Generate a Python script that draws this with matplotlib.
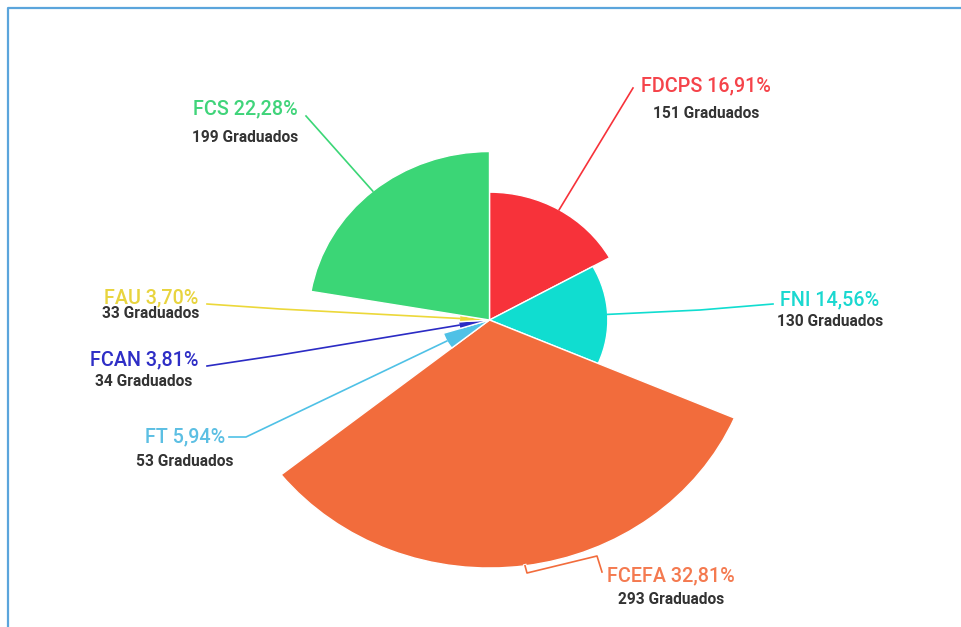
import matplotlib
matplotlib.use("Agg")
import matplotlib.pyplot as plt
from matplotlib.patches import Wedge
from matplotlib.transforms import Affine2D
import matplotlib.patheffects as pe
import numpy as np

# ---- data ----
faculties = ["FDCPS", "FNI", "FCEFA", "FT", "FCAN", "FAU", "FCS"]
graduados = [151, 130, 293, 53, 34, 33, 199]
percent_labels = ["16,91%", "14,56%", "32,81%", "5,94%", "3,81%", "3,70%", "22,28%"]
colors = ["#f7323a", "#10ddd0", "#f26c3c", "#4fc1e6", "#2b2bc4", "#ecd83a", "#3bd676"]
label_colors = ["#f5434a", "#1ad8d0", "#f47a50", "#5cbfe3", "#2e2ec6", "#e8d43e", "#40d47a"]

# ---- layout (pixels, image coordinates: y down) ----
W, H = 961, 627
cx, cy = 489.5, 320
sx = 1.075           # horizontal stretch of the reference picture
rmin, rmax = 28, 248

# label block center x, title y, sub y
label_pos = {
    "FDCPS": (706, 86, 113),
    "FNI":   (830, 300, 322),
    "FCEFA": (671, 576, 599),
    "FT":    (185, 437, 462),
    "FCAN":  (144, 360, 381),
    "FAU":   (151, 298, 314),
    "FCS":   (245, 109, 137),
}
# connector end points (near labels)
conn_end = {
    "FDCPS": [(633, 88)],
    "FNI":   [(700, 310), (773, 304)],
    "FCEFA": [(527, 573), (597, 556), (602, 572)],
    "FT":    [(246, 437), (229, 437)],
    "FCAN":  [(280, 355), (207, 366)],
    "FAU":   [(280, 309), (207, 304)],
    "FCS":   [(306, 116)],
}

fig = plt.figure(figsize=(W / 100, H / 100), dpi=100)
ax = fig.add_axes([0, 0, 1, 1])
ax.set_xlim(0, W)
ax.set_ylim(H, 0)
ax.axis("off")

# frame
ax.plot([8, 8, W + 5], [H + 5, 8, 8], color="#5ba5dc", lw=1.6, solid_capstyle="butt")

total = sum(graduados)
vmin, vmax = min(graduados), max(graduados)
cum = 0.0
# transform: unit space (y up) -> image pixel space with stretch
tr = Affine2D().scale(sx, -1).translate(cx, cy) + ax.transData

for name, g, pl, col, lcol in zip(faculties, graduados, percent_labels, colors, label_colors):
    frac = g / total
    r = rmin + (g - vmin) / (vmax - vmin) * (rmax - rmin)
    t1 = 90 - (cum + frac) * 360
    t2 = 90 - cum * 360
    w = Wedge((0, 0), r, t1, t2, facecolor=col, edgecolor="white", lw=1.0, transform=tr)
    ax.add_patch(w)
    mid = np.deg2rad(90 - (cum + frac / 2) * 360)
    px = cx + sx * r * np.cos(mid)
    py = cy - r * np.sin(mid)
    pts = [(px, py)] + conn_end[name]
    xs, ys = zip(*pts)
    ax.plot(xs, ys, color=col, lw=1.2, zorder=3,
            path_effects=[pe.Stroke(linewidth=2.6, foreground="white"), pe.Normal()] if name == "FCEFA" else None)
    lx, ty, sy = label_pos[name]
    ax.text(lx, ty, f"{name} {pl}", color=lcol, fontsize=14.2, family="Roboto",
            fontweight="medium", ha="center", va="center", zorder=5)
    ax.text(lx, sy, f"{g} Graduados", color="#333333", fontsize=11.2, family="Roboto",
            fontweight="bold", ha="center", va="center", zorder=5)
    cum += frac

fig.savefig("out.png", dpi=100)
